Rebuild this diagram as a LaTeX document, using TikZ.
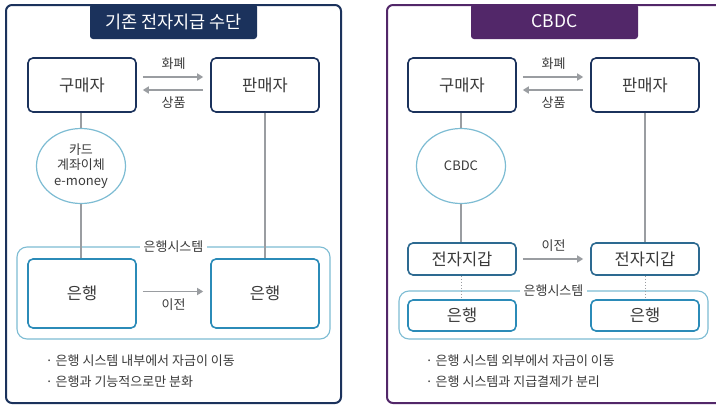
\documentclass[tikz,border=0pt]{standalone}
\usepackage{fontspec}
\setmainfont{Noto Sans CJK KR}
\usetikzlibrary{arrows.meta,shapes.geometric}

\definecolor{navy}{HTML}{1B325C}
\definecolor{cbdcpurple}{HTML}{522769}
\definecolor{bankblue}{HTML}{2B8BB8}
\definecolor{walletblue}{HTML}{2D6A91}
\definecolor{sysblue}{HTML}{7DBCD3}
\definecolor{linegray}{HTML}{9A9DA1}
\definecolor{txtgray}{HTML}{3A3A3A}

\tikzset{
  party/.style={draw=navy, line width=1.6pt, rounded corners=5pt, fill=white,
    minimum width=108pt, minimum height=54pt, text=txtgray,
    font=\fontsize{16.5}{18}\selectfont},
  bankbox/.style={party, draw=bankblue, minimum height=69pt},
  walletbox/.style={party, draw=walletblue, minimum height=32pt},
  means/.style={ellipse, draw=sysblue, line width=1.2pt, fill=white,
    minimum width=89pt, minimum height=75pt, align=center, text=txtgray,
    font=\fontsize{13}{15.5}\selectfont},
  system/.style={draw=sysblue, line width=1.1pt, rounded corners=10pt},
  syslabel/.style={fill=white, inner xsep=4pt, text=txtgray,
    font=\fontsize{13}{15}\selectfont},
  link/.style={draw=linegray, line width=1.4pt},
  flow/.style={draw=linegray, line width=1.4pt, -{Triangle[length=6pt,width=7pt]}},
  flowlabel/.style={text=txtgray, font=\fontsize{13}{15}\selectfont},
  note/.style={anchor=west, text=txtgray, font=\fontsize{13}{15}\selectfont},
  heading/.style={text=white, font=\fontsize{17.5}{20}\selectfont}
}

\begin{document}
\begin{tikzpicture}[x=1pt, y=-1pt]

    \clip (0,0) rectangle (716,405);
    \fill[white] (0,0) rectangle (716,405);

    \draw[navy, line width=2pt, rounded corners=6pt] (6,5) rectangle (341,403);
    \fill[navy, rounded corners=3pt] (90,4) rectangle (257,39);
    \node[heading] (oldtitle) at (173.5,21.5) {기존 전자지급 수단};

    \draw[system] (17,247) rectangle (330,339);
    \node[syslabel] (oldsys) at (173.5,247) {은행시스템};

    \node[party] (oldbuyer) at (82,85) {구매자};
    \node[party] (oldseller) at (265,85) {판매자};
    \node[means] (oldmeans) at (81,166) {카드\\계좌이체\\e-money};
    \node[bankbox] (oldbank1) at (82,293.5) {은행};
    \node[bankbox] (oldbank2) at (265,293.5) {은행};

    \draw[link] (oldbuyer.south -| oldmeans.north) -- (oldmeans.north);
    \draw[link] (oldmeans.south) -- (oldmeans.south |- oldbank1.north);
    \draw[link] (oldseller.south) -- (oldbank2.north);

    \draw[flow, shorten <=6pt, shorten >=7pt] ([yshift=8pt]oldbuyer.east) -- node[flowlabel, above=3pt] {화폐} ([yshift=8pt]oldseller.west);
    \draw[flow, shorten <=7pt, shorten >=6pt] ([yshift=-5pt]oldseller.west) -- node[flowlabel, below=3pt] {상품} ([yshift=-5pt]oldbuyer.east);
    \draw[flow, shorten <=6pt, shorten >=7pt] ([yshift=2pt]oldbank1.east) -- node[flowlabel, below=3pt] {이전} ([yshift=2pt]oldbank2.west);

    \node[note] (oldnote1) at (42,361) {·\ 은행 시스템 내부에서 자금이 이동};
    \node[note] (oldnote2) at (42,382) {·\ 은행과 기능적으로만 분화};



    \draw[cbdcpurple, line width=2pt, rounded corners=6pt] (387,5) rectangle (740,403);
    \fill[cbdcpurple, rounded corners=3pt] (471,4) rectangle (638,39);
    \node[heading] (cbdctitle) at (554.5,21.5) {CBDC};

    \draw[system] (399,291) rectangle (708,339);
    \node[syslabel] (cbdcsys) at (553.5,291) {은행시스템};

    \node[party] (cbdcbuyer) at (462,85) {구매자};
    \node[party] (cbdcseller) at (645,85) {판매자};
    \node[means] (cbdcmeans) at (461,166) {CBDC};
    \node[walletbox] (wallet1) at (462,259) {전자지갑};
    \node[walletbox] (wallet2) at (645,259) {전자지갑};
    \node[bankbox, minimum height=31pt] (cbdcbank1) at (462,315.5) {은행};
    \node[bankbox, minimum height=31pt] (cbdcbank2) at (645,315.5) {은행};

    \draw[link] (cbdcbuyer.south -| cbdcmeans.north) -- (cbdcmeans.north);
    \draw[link] (cbdcmeans.south) -- (cbdcmeans.south |- wallet1.north);
    \draw[link] (cbdcseller.south) -- (wallet2.north);
    \draw[linegray, line width=1pt, dotted] (wallet1.south -| cbdcmeans.south) -- (cbdcbank1.north -| cbdcmeans.south);
    \draw[linegray, line width=1pt, dotted] (wallet2.south) -- (cbdcbank2.north);

    \draw[flow, shorten <=6pt, shorten >=7pt] ([yshift=8pt]cbdcbuyer.east) -- node[flowlabel, above=3pt] {화폐} ([yshift=8pt]cbdcseller.west);
    \draw[flow, shorten <=7pt, shorten >=6pt] ([yshift=-5pt]cbdcseller.west) -- node[flowlabel, below=3pt] {상품} ([yshift=-5pt]cbdcbuyer.east);
    \draw[flow, shorten <=6pt, shorten >=7pt] (wallet1.east) -- node[flowlabel, above=3pt] {이전} (wallet2.west);

    \node[note] (cbdcnote1) at (422,361) {·\ 은행 시스템 외부에서 자금이 이동};
    \node[note] (cbdcnote2) at (422,382) {·\ 은행 시스템과 지급결제가 분리};

\end{tikzpicture}
\end{document}
